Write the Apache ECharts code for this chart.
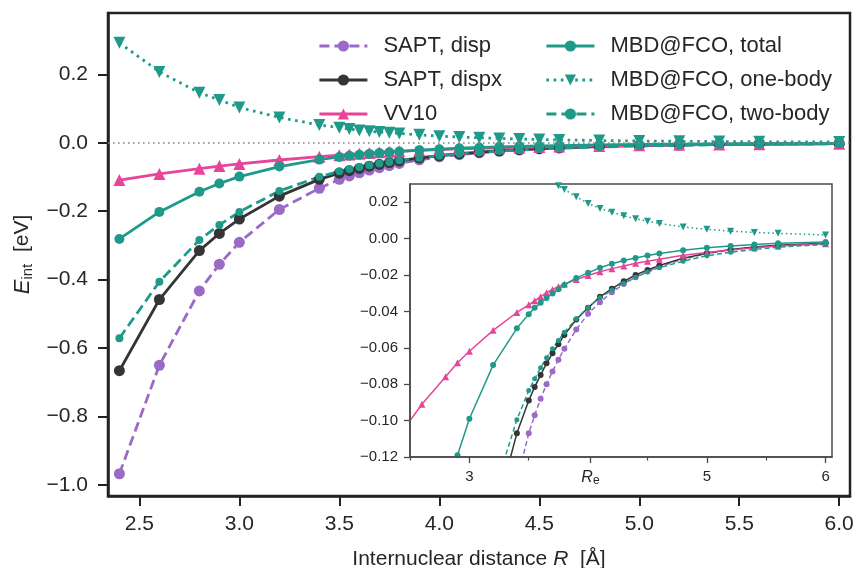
<!DOCTYPE html>
<html>
<head>
<meta charset="utf-8">
<script src="https://cdn.jsdelivr.net/npm/echarts@6/dist/echarts.min.js"></script>
<style>
  html, body { margin: 0; padding: 0; background: #fff; }
  #chart { width: 855px; height: 568px; }
</style>
</head>
<body>
<div id="chart"></div>
<script>
// Internuclear distances R [Å] shared by every curve
const R = [2.4, 2.6, 2.8, 2.9, 3.0, 3.2, 3.4, 3.5, 3.55, 3.6, 3.65, 3.7, 3.75, 3.8,
           3.9, 4.0, 4.1, 4.2, 4.3, 4.4, 4.5, 4.6, 4.8, 5.0, 5.2, 5.4, 5.6, 6.0];

// Interaction energies E_int [eV]
const saptDisp = [-0.967, -0.650, -0.433, -0.355, -0.291, -0.195, -0.133, -0.107, -0.097, -0.088,
                  -0.080, -0.073, -0.0665, -0.0605, -0.050, -0.0413, -0.0350, -0.0295, -0.0250,
                  -0.0212, -0.0180, -0.0155, -0.0113, -0.0083, -0.0062, -0.0047, -0.0038, -0.0026];
const saptDispx = [-0.666, -0.458, -0.315, -0.265, -0.223, -0.156, -0.107, -0.089, -0.0815, -0.075,
                   -0.0685, -0.063, -0.058, -0.053, -0.0445, -0.038, -0.032, -0.0275, -0.0235,
                   -0.0200, -0.0172, -0.0148, -0.0108, -0.0080, -0.0060, -0.0046, -0.0037, -0.0025];
const vv10 = [-0.109, -0.091, -0.0759, -0.0682, -0.0619, -0.0504, -0.0406, -0.0364, -0.0342, -0.0319,
              -0.0297, -0.0279, -0.0264, -0.0250, -0.0225, -0.0203, -0.0182, -0.0165, -0.0150,
              -0.0136, -0.0124, -0.0113, -0.0092, -0.0076, -0.0062, -0.0050, -0.0041, -0.0028];
const mbdTotal = [-0.281, -0.202, -0.143, -0.119, -0.099, -0.0695, -0.0493, -0.0415, -0.0380, -0.0353,
                  -0.0326, -0.0302, -0.0278, -0.0255, -0.0216, -0.0188, -0.0160, -0.0138, -0.0120,
                  -0.0106, -0.0093, -0.0082, -0.0064, -0.0050, -0.0040, -0.0032, -0.0026, -0.0018];
const mbdOneBody = [0.292, 0.207, 0.146, 0.125, 0.103, 0.074, 0.052, 0.044, 0.040, 0.036,
                    0.0335, 0.031, 0.029, 0.027, 0.023, 0.0193, 0.0166, 0.0145, 0.0125,
                    0.0109, 0.0095, 0.0083, 0.0064, 0.0051, 0.0041, 0.0034, 0.0029, 0.0020];
const mbdTwoBody = [-0.571, -0.406, -0.284, -0.240, -0.202, -0.141, -0.0995, -0.0835, -0.077, -0.0710,
                    -0.0655, -0.0605, -0.0560, -0.0515, -0.0440, -0.0378, -0.0325, -0.0283, -0.0245,
                    -0.0213, -0.0183, -0.0160, -0.0124, -0.0094, -0.0075, -0.0059, -0.0047, -0.0032];

// Equilibrium distance marked in the inset
const Re = 4.02;

// Tick positions
const mainXTicks = [2.5, 3.0, 3.5, 4.0, 4.5, 5.0, 5.5, 6.0];
const mainYTicks = [-1.0, -0.8, -0.6, -0.4, -0.2, 0.0, 0.2];
const insetXMajor = [3, Re, 5, 6];
const insetXMinor = [2.5, 3.5, 4.5, 5.5];
const insetYTicks = [-0.12, -0.10, -0.08, -0.06, -0.04, -0.02, 0.00, 0.02];

const FONT = "'Liberation Sans', Arial, sans-serif";
const INK = '#262626';
const COL = { disp: '#9a6ac6', dispx: '#353535', vv10: '#e8449a', mbd: '#1f9a8a' };

const curves = [
  { name: 'SAPT, disp',         ys: saptDisp,   color: COL.disp,  style: 'dash',  symbol: 'circle',   size: [11, 6] },
  { name: 'SAPT, dispx',        ys: saptDispx,  color: COL.dispx, style: 'solid', symbol: 'circle',   size: [11, 6] },
  { name: 'VV10',               ys: vv10,       color: COL.vv10,  style: 'solid', symbol: 'triangle', size: [12, 7] },
  { name: 'MBD@FCO, total',     ys: mbdTotal,   color: COL.mbd,   style: 'solid', symbol: 'circle',   size: [10, 6] },
  { name: 'MBD@FCO, one-body',  ys: mbdOneBody, color: COL.mbd,   style: 'dot',   symbol: 'triangle', size: [12, 7], rotate: 180 },
  { name: 'MBD@FCO, two-body',  ys: mbdTwoBody, color: COL.mbd,   style: 'dash',  symbol: 'circle',   size: [8, 5] }
];

const pairs = ys => R.map((x, i) => [x, ys[i]]);
const signed = (v, d) => (v < -1e-9 ? '\u2212' : '') + Math.abs(v).toFixed(d);

function dashFor(style, inset) {
  if (style === 'dash') return inset ? [5, 3] : [10, 5];
  if (style === 'dot') return inset ? [1.5, 3] : [2.6, 4.6];
  return 'solid';
}

function curveSeries(c, g) {
  const inset = g === 1;
  return {
    type: 'line',
    name: c.name,
    xAxisIndex: g,
    yAxisIndex: g,
    data: pairs(c.ys),
    symbol: c.symbol,
    symbolSize: inset ? c.size[1] : c.size[0],
    symbolRotate: c.rotate || 0,
    showSymbol: true,
    showAllSymbol: true,
    clip: true,
    silent: true,
    z: inset ? 20 : 3,
    lineStyle: { color: c.color, width: inset ? 1.5 : 2.8, type: dashFor(c.style, inset) },
    itemStyle: { color: c.color, borderWidth: 0 }
  };
}

// Reference lines: E = 0 in both panels, R = Re in the inset
const refLines = [
  {
    type: 'line', xAxisIndex: 0, yAxisIndex: 0, data: [[4, 0]], showSymbol: false, silent: true, z: 2,
    lineStyle: { opacity: 0 },
    markLine: {
      silent: true, symbol: 'none', label: { show: false }, animation: false,
      lineStyle: { color: '#858585', width: 1.6, type: [1.6, 3.4] },
      data: [{ yAxis: 0 }]
    }
  },
  {
    type: 'line', xAxisIndex: 1, yAxisIndex: 1, data: [[Re, 0]], showSymbol: false, silent: true, z: 19,
    lineStyle: { opacity: 0 },
    markLine: {
      silent: true, symbol: 'none', label: { show: false }, animation: false,
      data: [
        { yAxis: 0, lineStyle: { color: '#8a8a8a', width: 1, type: [1, 2] } },
        { xAxis: Re, lineStyle: { color: '#111', width: 2, type: [2, 3] } }
      ]
    }
  }
];

function legendItems(list) {
  return list.map(c => ({
    name: c.name,
    lineStyle: { color: c.color, width: 2.8, type: dashFor(c.style, false) }
  }));
}

const legendCommon = {
  orient: 'vertical',
  top: 29,
  itemGap: 10,
  itemWidth: 48,
  itemHeight: 14,
  selectedMode: false,
  textStyle: { fontSize: 22, color: INK, fontFamily: FONT, lineHeight: 24, padding: [0, 0, 0, 11] }
};

const gridBase = { containLabel: false, outerBoundsMode: 'none' };

const option = {
  animation: false,
  backgroundColor: '#fff',
  textStyle: { fontFamily: FONT },
  legend: [
    Object.assign({ left: 313, data: legendItems(curves.slice(0, 3)) }, legendCommon),
    Object.assign({ left: 540, data: legendItems(curves.slice(3)) }, legendCommon)
  ],
  grid: [
    Object.assign({ left: 108, top: 13, right: 5, bottom: 72, show: true, borderColor: '#222', borderWidth: 2.5, backgroundColor: 'transparent' }, gridBase),
    Object.assign({ left: 410, top: 184, width: 422, height: 273, show: true, borderColor: '#4a4a4a', borderWidth: 1.5, backgroundColor: '#fff', z: 10 }, gridBase),
    Object.assign({ left: 410, top: 184, width: 422, height: 273, show: false, z: 12 }, gridBase)
  ],
  xAxis: [
    {
      gridIndex: 0, type: 'value', min: 2.343, max: 6.054,
      axisLine: { show: true, onZero: false, lineStyle: { color: '#222', width: 2.5 } },
      axisTick: { show: true, customValues: mainXTicks, length: 10, lineStyle: { color: '#222', width: 2 } },
      axisLabel: { customValues: mainXTicks, formatter: v => v.toFixed(1), fontSize: 21, color: INK, fontFamily: FONT, margin: 18 },
      splitLine: { show: false },
      name: 'Internuclear distance {i|R}  [Å]',
      nameLocation: 'middle', nameGap: 53,
      nameTextStyle: { fontSize: 21, color: INK, fontFamily: FONT,
        rich: { i: { fontSize: 21, fontStyle: 'italic', color: INK, fontFamily: FONT } } }
    },
    {
      gridIndex: 1, type: 'value', min: 2.5, max: 6.054, z: 21,
      axisLine: { show: true, onZero: false, lineStyle: { color: '#4a4a4a', width: 1.5 } },
      axisTick: { show: true, customValues: insetXMajor, length: 6, lineStyle: { color: '#4a4a4a', width: 1.3 } },
      axisLabel: {
        customValues: insetXMajor, fontSize: 15, color: INK, fontFamily: FONT, margin: 12,
        formatter: v => Math.abs(v - Re) < 1e-6 ? '{i|R}{s|e}' : String(Math.round(v)),
        rich: {
          i: { fontSize: 16, fontStyle: 'italic', color: INK, fontFamily: FONT, lineHeight: 18 },
          s: { fontSize: 12, color: INK, fontFamily: FONT, lineHeight: 12, verticalAlign: 'bottom' }
        }
      },
      splitLine: { show: false }
    },
    {
      gridIndex: 2, type: 'value', min: 2.5, max: 6.054, z: 21,
      axisLine: { show: false, onZero: false },
      axisTick: { show: true, customValues: insetXMinor, length: 3.5, lineStyle: { color: '#4a4a4a', width: 1.2 } },
      axisLabel: { show: false },
      splitLine: { show: false }
    }
  ],
  yAxis: [
    {
      gridIndex: 0, type: 'value', min: -1.032, max: 0.379,
      axisLine: { show: true, onZero: false, lineStyle: { color: '#222', width: 2.5 } },
      axisTick: { show: true, customValues: mainYTicks, length: 10, lineStyle: { color: '#222', width: 2 } },
      axisLabel: { customValues: mainYTicks, formatter: v => signed(v, 1), fontSize: 21, color: INK, fontFamily: FONT, margin: 20 },
      splitLine: { show: false },
      name: '{i|E}{s|int}  [eV]',
      nameLocation: 'middle', nameGap: 61,
      nameTextStyle: { fontSize: 21, color: INK, fontFamily: FONT,
        rich: {
          i: { fontSize: 22, fontStyle: 'italic', color: INK, fontFamily: FONT, lineHeight: 26 },
          s: { fontSize: 15, color: INK, fontFamily: FONT, lineHeight: 15, verticalAlign: 'bottom' }
        } }
    },
    {
      gridIndex: 1, type: 'value', min: -0.12, max: 0.03, z: 21,
      axisLine: { show: true, onZero: false, lineStyle: { color: '#4a4a4a', width: 1.5 } },
      axisTick: { show: true, customValues: insetYTicks, length: 6, lineStyle: { color: '#4a4a4a', width: 1.3 } },
      axisLabel: { customValues: insetYTicks, formatter: v => signed(v, 2), fontSize: 15, color: INK, fontFamily: FONT, margin: 12 },
      splitLine: { show: false }
    },
    { gridIndex: 2, type: 'value', min: -0.12, max: 0.03, show: false }
  ],
  series: [
    ...refLines,
    ...curves.map(c => curveSeries(c, 0)),
    ...curves.map(c => curveSeries(c, 1))
  ]
};

const chart = echarts.init(document.getElementById('chart'), null, { renderer: 'canvas' });
chart.setOption(option);
</script>
</body>
</html>
